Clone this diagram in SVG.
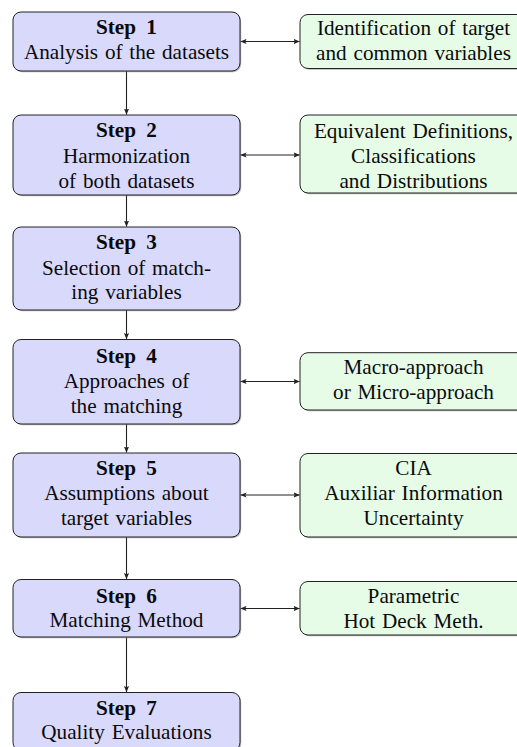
<svg xmlns="http://www.w3.org/2000/svg" width="517" height="747" viewBox="0 0 517 747">
  <style>
    .shadow { fill: #7a7a7a; opacity: 0.55; }
    .step { fill: #d9d9fc; stroke: #222; stroke-width: 1; }
    .note { fill: #e6fce6; stroke: #222; stroke-width: 1; }
    .lbl { font-size: 21.2px; fill: #0a0a0a; text-anchor: middle; word-spacing: 1.5px; }
    .bold { font-weight: bold; word-spacing: 5px; }
    .link { stroke: #222; stroke-width: 1.1; fill: none; }
  </style>
  <defs>
    <marker id="tip" markerUnits="userSpaceOnUse" markerWidth="8" markerHeight="6" refX="6" refY="3" orient="auto-start-reverse">
      <path d="M0,0.4 L6.2,3 L0,5.6 L1.2,3 Z" fill="#222"/>
    </marker>
  </defs>

  <!-- vertical flow between steps -->
  <g id="connectors">
    <line class="link" x1="126.5" y1="71" x2="126.5" y2="114.5" marker-end="url(#tip)"/>
    <line class="link" x1="126.5" y1="195" x2="126.5" y2="226.5" marker-end="url(#tip)"/>
    <line class="link" x1="126.5" y1="310" x2="126.5" y2="339" marker-end="url(#tip)"/>
    <line class="link" x1="126.5" y1="424" x2="126.5" y2="452.5" marker-end="url(#tip)"/>
    <line class="link" x1="126.5" y1="537" x2="126.5" y2="579" marker-end="url(#tip)"/>
    <line class="link" x1="126.5" y1="637.5" x2="126.5" y2="692" marker-end="url(#tip)"/>
    <!-- side links to the detail boxes -->
    <line class="link" x1="240.5" y1="41.5" x2="299.5" y2="41.5" marker-start="url(#tip)" marker-end="url(#tip)"/>
    <line class="link" x1="240.5" y1="155" x2="299.5" y2="155" marker-start="url(#tip)" marker-end="url(#tip)"/>
    <line class="link" x1="240.5" y1="381.5" x2="299.5" y2="381.5" marker-start="url(#tip)" marker-end="url(#tip)"/>
    <line class="link" x1="240.5" y1="495" x2="299.5" y2="495" marker-start="url(#tip)" marker-end="url(#tip)"/>
    <line class="link" x1="240.5" y1="608.5" x2="299.5" y2="608.5" marker-start="url(#tip)" marker-end="url(#tip)"/>
  </g>

  <g font-family="'Liberation Serif', 'Times New Roman', Times, serif">
  <!-- steps -->
  <g id="step1">
    <rect class="shadow" x="14.2" y="13.2" width="227" height="59" rx="8"/>
    <rect class="step" x="13" y="12" width="227" height="59" rx="8"/>
    <text x="126.5" y="34" class="lbl bold">Step 1</text>
    <text x="126.5" y="59" class="lbl">Analysis of the datasets</text>
  </g>
  <g id="step2">
    <rect class="shadow" x="14.2" y="116.2" width="227" height="80" rx="8"/>
    <rect class="step" x="13" y="115" width="227" height="80" rx="8"/>
    <text x="126.5" y="137" class="lbl bold">Step 2</text>
    <text x="126.5" y="162.5" class="lbl">Harmonization</text>
    <text x="126.5" y="187.5" class="lbl">of both datasets</text>
  </g>
  <g id="step3">
    <rect class="shadow" x="14.2" y="228.2" width="227" height="83" rx="8"/>
    <rect class="step" x="13" y="227" width="227" height="83" rx="8"/>
    <text x="126.5" y="249" class="lbl bold">Step 3</text>
    <text x="126.5" y="274.5" class="lbl">Selection of match-</text>
    <text x="126.5" y="299" class="lbl">ing variables</text>
  </g>
  <g id="step4">
    <rect class="shadow" x="14.2" y="340.7" width="227" height="84.5" rx="8"/>
    <rect class="step" x="13" y="339.5" width="227" height="84.5" rx="8"/>
    <text x="126.5" y="362.5" class="lbl bold">Step 4</text>
    <text x="126.5" y="387.5" class="lbl">Approaches of</text>
    <text x="126.5" y="412.5" class="lbl">the matching</text>
  </g>
  <g id="step5">
    <rect class="shadow" x="14.2" y="454.2" width="227" height="84" rx="8"/>
    <rect class="step" x="13" y="453" width="227" height="84" rx="8"/>
    <text x="126.5" y="475" class="lbl bold">Step 5</text>
    <text x="126.5" y="500" class="lbl">Assumptions about</text>
    <text x="126.5" y="525" class="lbl">target variables</text>
  </g>
  <g id="step6">
    <rect class="shadow" x="14.2" y="580.7" width="227" height="57.5" rx="8"/>
    <rect class="step" x="13" y="579.5" width="227" height="57.5" rx="8"/>
    <text x="126.5" y="602.5" class="lbl bold">Step 6</text>
    <text x="126.5" y="627" class="lbl">Matching Method</text>
  </g>
  <g id="step7">
    <rect class="shadow" x="14.2" y="693.7" width="227" height="58" rx="8"/>
    <rect class="step" x="13" y="692.5" width="227" height="58" rx="8"/>
    <text x="126.5" y="715" class="lbl bold">Step 7</text>
    <text x="126.5" y="739" class="lbl">Quality Evaluations</text>
  </g>

  <!-- detail boxes -->
  <g id="note1">
    <rect class="shadow" x="301.2" y="15.7" width="227" height="54" rx="8"/>
    <rect class="note" x="300" y="14.5" width="227" height="54" rx="8"/>
    <text x="413.5" y="34.5" class="lbl">Identification of target</text>
    <text x="413.5" y="60" class="lbl">and common variables</text>
  </g>
  <g id="note2">
    <rect class="shadow" x="301.2" y="116.2" width="227" height="78" rx="8"/>
    <rect class="note" x="300" y="115" width="227" height="78" rx="8"/>
    <text x="413.5" y="137.5" class="lbl">Equivalent Definitions,</text>
    <text x="413.5" y="163" class="lbl">Classifications</text>
    <text x="413.5" y="188" class="lbl">and Distributions</text>
  </g>
  <g id="note4">
    <rect class="shadow" x="301.2" y="353.9" width="227" height="57.3" rx="8"/>
    <rect class="note" x="300" y="352.7" width="227" height="57.3" rx="8"/>
    <text x="413.5" y="374" class="lbl">Macro-approach</text>
    <text x="413.5" y="399" class="lbl">or Micro-approach</text>
  </g>
  <g id="note5">
    <rect class="shadow" x="301.2" y="454.7" width="227" height="83.5" rx="8"/>
    <rect class="note" x="300" y="453.5" width="227" height="83.5" rx="8"/>
    <text x="413.5" y="475" class="lbl">CIA</text>
    <text x="413.5" y="500" class="lbl">Auxiliar Information</text>
    <text x="413.5" y="525" class="lbl">Uncertainty</text>
  </g>
  <g id="note6">
    <rect class="shadow" x="301.2" y="582.7" width="227" height="53.5" rx="8"/>
    <rect class="note" x="300" y="581.5" width="227" height="53.5" rx="8"/>
    <text x="413.5" y="603" class="lbl">Parametric</text>
    <text x="413.5" y="628" class="lbl">Hot Deck Meth.</text>
  </g>
  </g>
</svg>
